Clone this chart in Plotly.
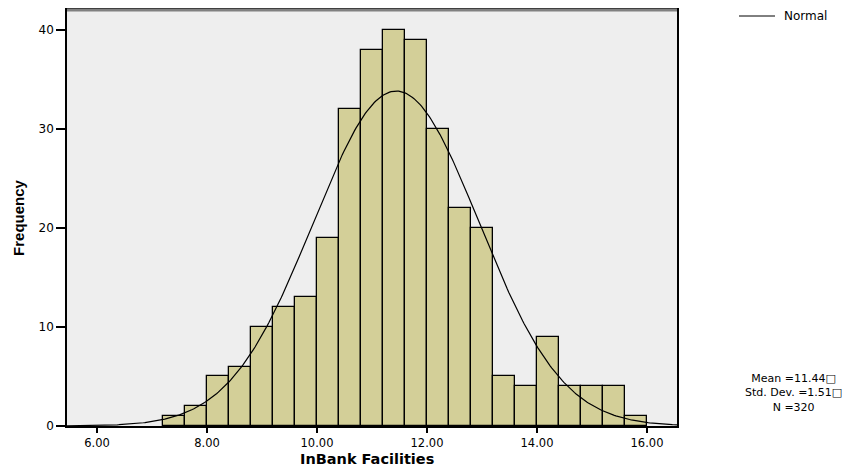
import numpy as np
import plotly.graph_objects as go

# Histogram data (bin width 0.4, from 7.2 to 16.0)
bin_starts = [7.2, 7.6, 8.0, 8.4, 8.8, 9.2, 9.6, 10.0, 10.4, 10.8, 11.2,
              11.6, 12.0, 12.4, 12.8, 13.2, 13.6, 14.0, 14.4, 14.8, 15.2, 15.6]
counts = [1, 2, 5, 6, 10, 12, 13, 19, 32, 38, 40,
          39, 30, 22, 20, 5, 4, 9, 4, 4, 4, 1]
bin_width = 0.4
mean_val = 11.44
std_val = 1.51
n_val = 320

x_tick_vals = [6, 8, 10, 12, 14, 16]
x_tick_text = ["6.00", "8.00", "10.00", "12.00", "14.00", "16.00"]
y_tick_vals = [0, 10, 20, 30, 40]
stats_lines = ["Mean =11.44\u25a1", "Std. Dev. =1.51\u25a1", "N =320"]
x_title = "InBank Facilities"
y_title = "Frequency"
legend_label = "Normal"

x_range = [5.455, 16.545]
y_range = [0, 42]

centers = [s + bin_width / 2 for s in bin_starts]

# Fitted normal curve (as drawn by the original: N * binwidth * pdf)
xs = np.linspace(x_range[0], x_range[1], 400)
ys = n_val * bin_width / (std_val * np.sqrt(2 * np.pi)) * np.exp(-0.5 * ((xs - mean_val) / std_val) ** 2)

fig = go.Figure()
fig.add_trace(go.Bar(
    x=centers, y=counts, width=bin_width,
    marker=dict(color="#D3CF98", line=dict(color="#000000", width=1.3)),
    showlegend=False, hoverinfo="x+y",
))
fig.add_trace(go.Scatter(
    x=xs, y=ys, mode="lines", name=legend_label,
    line=dict(color="#000000", width=1.2),
    showlegend=False,
))

font_main = "DejaVu Sans, Liberation Sans, Arial, sans-serif"

L, R, T, B = 67, 177, 10, 42
PW, PH = 854 - L - R, 468 - T - B


def px(xp):
    return (xp - L) / PW


def py(yp):
    return (468 - B - yp) / PH


annotations = [
    dict(xref="paper", yref="paper", x=px(782), y=py(16), xanchor="left", yanchor="middle",
         text=legend_label, showarrow=False,
         font=dict(family=font_main, size=12, color="#000000")),
    dict(xref="paper", yref="paper", x=px(367), y=py(459), xanchor="center", yanchor="middle",
         text="<b>" + x_title + "</b>", showarrow=False,
         font=dict(family=font_main, size=14.5, color="#000000")),
    dict(xref="paper", yref="paper", x=px(793), y=py(393), xanchor="center", yanchor="middle",
         text="<br>".join(stats_lines), showarrow=False, align="center",
         font=dict(family=font_main, size=11, color="#000000")),
]

fig.update_layout(
    width=854, height=468,
    margin=dict(l=L, r=R, t=T, b=B, autoexpand=False),
    paper_bgcolor="#FFFFFF",
    plot_bgcolor="#EEEEEE",
    bargap=0,
    showlegend=False,
    font=dict(family=font_main, size=12, color="#000000"),
    xaxis=dict(
        range=x_range, tickvals=x_tick_vals, ticktext=x_tick_text,
        showgrid=False, zeroline=False,
        showline=True, linecolor="#000000", linewidth=1.5, mirror=True,
        ticks="outside", ticklen=5, tickwidth=1.5, tickcolor="#000000",
        tickfont=dict(family=font_main, size=11.5),
    ),
    yaxis=dict(
        range=y_range, tickvals=y_tick_vals,
        showgrid=False, zeroline=False,
        showline=True, linecolor="#000000", linewidth=1.5, mirror=True,
        ticks="outside", ticklen=9, tickwidth=1.5, tickcolor="#000000",
        tickfont=dict(family=font_main, size=12),
        title=dict(text="<b>" + y_title + "</b>", standoff=10,
                   font=dict(family="Liberation Sans Narrow, Arial Narrow, Liberation Sans", size=15)),
    ),
    shapes=[
        dict(type="line", xref="paper", yref="paper", x0=0, x1=1, y0=1, y1=1,
             line=dict(color="#808080", width=3)),
        dict(type="line", xref="paper", yref="paper", x0=px(739), x1=px(775), y0=py(16), y1=py(16),
             line=dict(color="#000000", width=1)),
    ],
    annotations=annotations,
)

fig.write_html("out.html", config={"displayModeBar": False},
               post_script="document.body.style.margin='0';document.body.style.padding='0';document.body.style.overflow='hidden';")
